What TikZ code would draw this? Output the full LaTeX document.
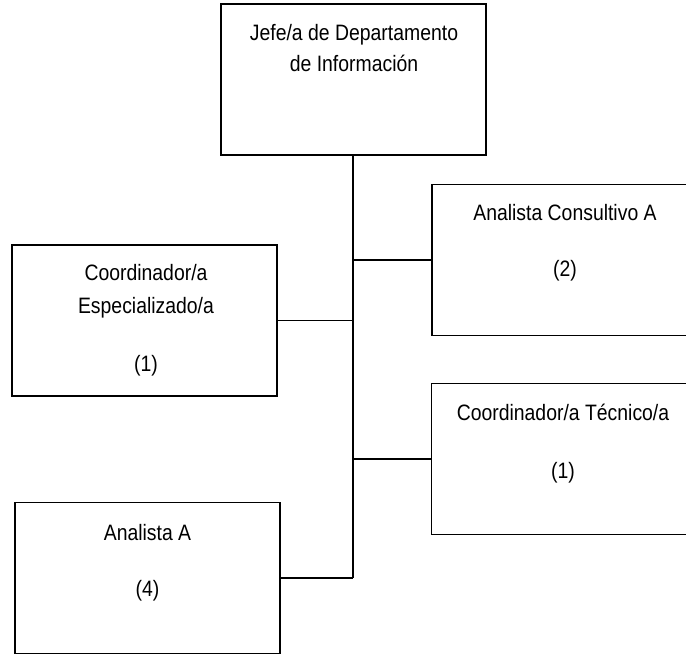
\documentclass[tikz,border=0pt]{standalone}
\usepackage{fontspec}
\setmainfont{Liberation Sans}[FakeStretch=0.87]
\begin{document}
\begin{tikzpicture}[x=1pt,y=-1pt,
  unitbox/.style={draw=black, line width=1.9pt, rectangle, inner sep=0pt,
    minimum width=265pt, minimum height=151pt},
  boxtext/.style={anchor=base, inner sep=0pt, font=\fontsize{22.3}{26}\selectfont},
  link/.style={draw=black, line width=1.9pt}]
\useasboundingbox (0,0) rectangle (686,654);
\clip (0,0) rectangle (686,654);

% boxes (centres in px of the drawing)
\node[unitbox] (jefe)  at (353.5,79.5) {};
\node[unitbox] (cons)  at (564.5,260)  {};
\node[unitbox] (tec)   at (564,459)    {};
\node[unitbox] (esp)   at (144.5,320.5){};
\node[unitbox] (anal)  at (147.5,578)  {};

% box texts
\node[boxtext] (jefeA) at (354,40) {Jefe/a de Departamento};
\node[boxtext] (jefeB) at (354,71) {de Información};
\node[boxtext] (consA) at (565,220) {Analista Consultivo A};
\node[boxtext] (consB) at (565,276) {(2)};
\node[boxtext] (tecA)  at (563,420) {Coordinador/a Técnico/a};
\node[boxtext] (tecB)  at (563,478) {(1)};
\node[boxtext] (espA)  at (146,280) {Coordinador/a};
\node[boxtext] (espB)  at (146,313) {Especializado/a};
\node[boxtext] (espC)  at (146,371) {(1)};
\node[boxtext] (analA) at (147.5,540) {Analista A};
\node[boxtext] (analB) at (147.5,596) {(4)};

% trunk line and branches
\coordinate (trunkend) at (353,578);
\draw[link] (jefe.south -| trunkend) -- (trunkend);
\draw[link] (cons.west) -- (cons.west -| trunkend);
\draw[link] (tec.west) -- (tec.west -| trunkend);
\draw[link] (esp.east) -- (esp.east -| trunkend);
\draw[link] (anal.east) -- (anal.east -| trunkend);
\end{tikzpicture}
\end{document}
